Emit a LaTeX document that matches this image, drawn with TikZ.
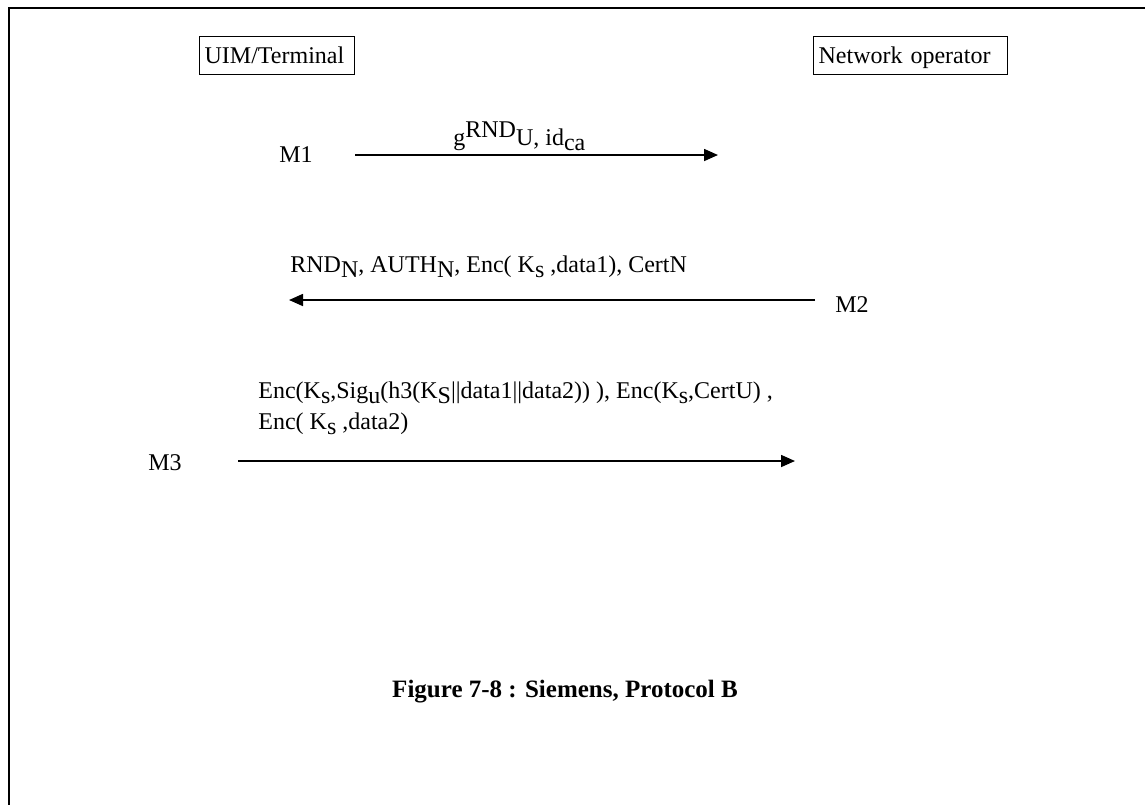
\documentclass[tikz,border=0pt]{standalone}
\usepackage{fontspec}
\setmainfont{Liberation Serif}
\usetikzlibrary{arrows.meta}
% lowered / raised text at full size
\newcommand{\subtxt}[1]{\raisebox{-2.5pt}{#1}}
\newcommand{\suptxt}[1]{\raisebox{4pt}{#1}}

\begin{document}
\begin{tikzpicture}[x=0.5pt,y=-0.5pt,
  party/.style={draw, line width=0.6pt, inner xsep=2.5pt, inner ysep=0pt,
    text height=13.5pt, text depth=5.5pt, anchor=north west, align=left,
    font=\fontsize{12}{14}\selectfont},
  lbl/.style={inner sep=0pt, anchor=base west, font=\fontsize{12}{14}\selectfont},
  msg/.style={line width=0.8pt, -{Triangle[length=7pt,width=6pt]}}]
\useasboundingbox (0,0) rectangle (1145,805);

% page frame (top and left edges)
\draw[line width=1pt] (1145,8) -- (9,8) -- (9,805);

% parties
\node[party, text width=72.5pt] (uim) at (199,36) {UIM/Terminal};
\node[party, text width=92pt] (net) at (813,36) {Network operator};

% message M1
\node[lbl] (m1) at (279,162) {M1};
\coordinate (m1s) at (355,155);
\coordinate (m1e) at (718,155);
\draw[msg] (m1s) -- (m1e);
\node[lbl] (m1t) at (453,145) {g\suptxt{RND}U, id\subtxt{ca}};

% message M2
\node[lbl] (m2t) at (290,272) {RND\subtxt{N}, AUTH\subtxt{N}, Enc( K\subtxt{s} ,data1), CertN};
\coordinate (m2s) at (815,300);
\coordinate (m2e) at (289,300);
\draw[msg] (m2s) -- (m2e);
\node[lbl] (m2) at (835,312) {M2};

% message M3
\node[lbl] (m3a) at (258,398) {Enc(K\subtxt{s},Sig\subtxt{u}(h3(K\subtxt{S}||data1||data2)) ), Enc(K\subtxt{s},CertU) ,};
\node[lbl] (m3b) at (258,429) {Enc( K\subtxt{s} ,data2)};
\node[lbl] (m3) at (148,470) {M3};
\coordinate (m3s) at (238,461);
\coordinate (m3e) at (795,461);
\draw[msg] (m3s) -- (m3e);

% caption
\node[inner sep=0pt, anchor=base, font=\fontsize{12.5}{15}\selectfont\bfseries] (cap) at (565,697)
  {Figure 7-8 : Siemens, Protocol B};
\end{tikzpicture}
\end{document}
